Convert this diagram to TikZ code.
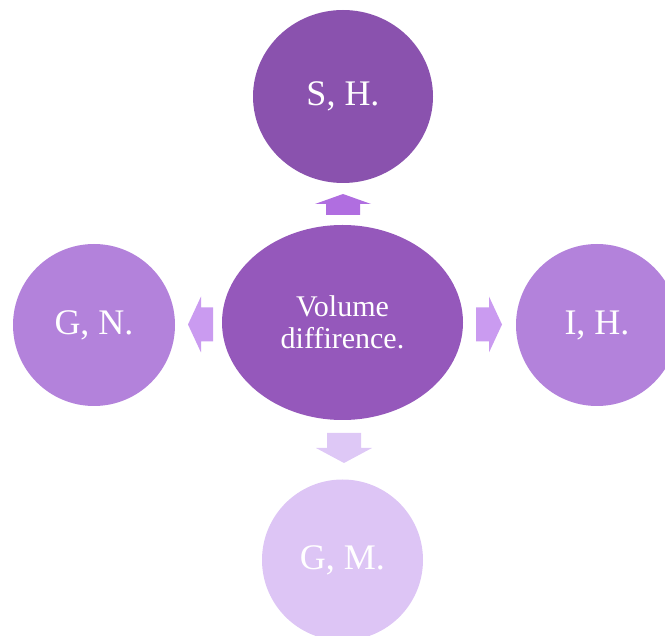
\documentclass[tikz,border=0pt]{standalone}
\usepackage{fontspec}
\setmainfont{Liberation Serif}
\usetikzlibrary{shapes.geometric}
\definecolor{topfill}{HTML}{8A52AE}
\definecolor{midfill}{HTML}{9558BB}
\definecolor{sidefill}{HTML}{B382DB}
\definecolor{lowfill}{HTML}{DDC5F5}
\definecolor{uparr}{HTML}{B06EE0}
\definecolor{sidearr}{HTML}{CA9BF0}
\definecolor{lowarr}{HTML}{DEC8F6}
\tikzstyle{blob} = [ellipse, inner sep=0pt, text=white, font=\fontsize{36}{40}\selectfont]
% block arrow: colour, x, y, angle, length, head length
\newcommand{\blk}[6]{\fill[#1, shift={(#2,#3)}, rotate=#4]
  ({-#5/2},-17) -- ({#5/2-#6},-17) -- ({#5/2-#6},-28) -- ({#5/2},0)
  -- ({#5/2-#6},28) -- ({#5/2-#6},17) -- ({-#5/2},17) -- cycle;}

\begin{document}
\begin{tikzpicture}[x=1pt, y=-1pt]
  \useasboundingbox (0,0) rectangle (665,636);
  \node [blob, fill=midfill, minimum width=241pt, minimum height=195pt, align=center,
         font=\fontsize{30}{32}\selectfont] (vol) at (342.5,322.5) {Volume\\diffirence.};
  \node [blob, fill=topfill, minimum width=180pt, minimum height=173pt] (sh) at (343,96.5) {S, H.};
  \node [blob, fill=sidefill, minimum size=162pt] (gn) at (94,325) {G, N.};
  \node [blob, fill=sidefill, minimum size=162pt] (ih) at (597,325) {I, H.};
  \node [blob, fill=lowfill, minimum size=161pt] (gm) at (342.5,560) {G, M.};
  % arrows
  \blk{uparr}{343}{204.5}{90}{21}{10}
  \blk{sidearr}{200.5}{324.5}{180}{25}{13}
  \blk{sidearr}{489}{324.5}{0}{26}{13}
  \blk{lowarr}{344}{448}{270}{30}{15}
\end{tikzpicture}
\end{document}
